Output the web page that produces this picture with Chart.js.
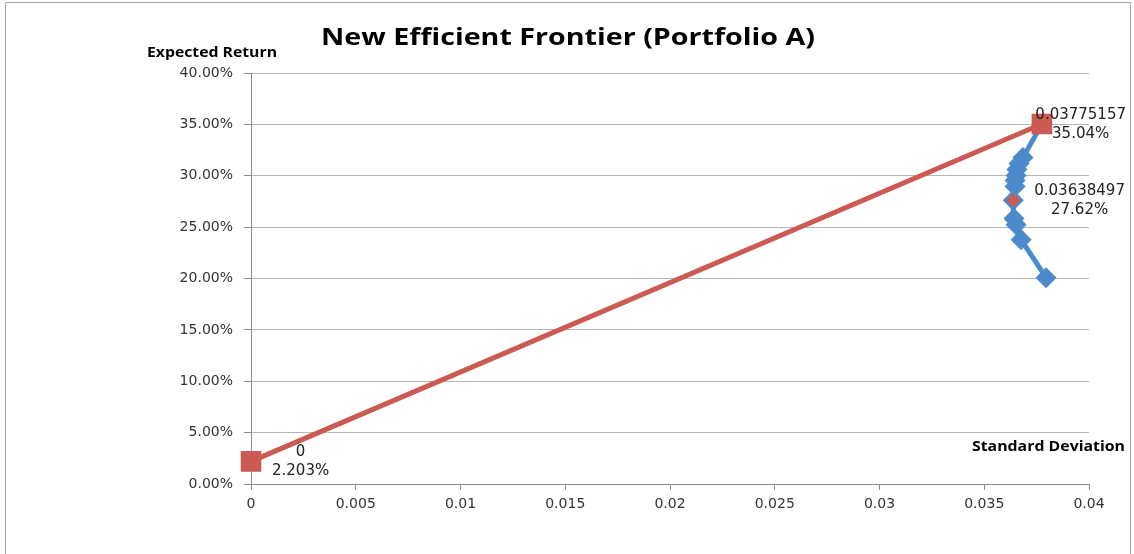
<!DOCTYPE html>
<html>
<head>
<meta charset="utf-8">
<script src="https://cdn.jsdelivr.net/npm/chart.js@4.4.1/dist/chart.umd.min.js"></script>
<style>
  html, body { margin: 0; padding: 0; background: #fff; }
  #wrap { width: 1134px; height: 554px; }
</style>
</head>
<body>
<div id="wrap"><canvas id="chartFrontier" width="1134" height="554"></canvas></div>
<script>
// efficient frontier (std dev, expected return %)
const frontierRisk = [0.03795, 0.03676, 0.03652, 0.03642, 0.03638497, 0.03647, 0.03647, 0.03652, 0.03656, 0.03666, 0.03685, 0.03775157];
const frontierReturn = [20.08, 23.78, 25.24, 25.83, 27.62, 28.95, 29.53, 30.02, 30.60, 31.19, 31.77, 35.04];

// capital market line: risk free -> tangency portfolio
const cmlRisk = [0, 0.03775157];
const cmlReturn = [2.203, 35.04];

// minimum variance portfolio
const minVarRisk = [0.03638497];
const minVarReturn = [27.62];

const xTickLabels = ['0', '0.005', '0.01', '0.015', '0.02', '0.025', '0.03', '0.035', '0.04'];
const yTickLabels = ['0.00%', '5.00%', '10.00%', '15.00%', '20.00%', '25.00%', '30.00%', '35.00%', '40.00%'];

const toPoints = (xs, ys) => xs.map((x, i) => ({ x: x, y: ys[i] }));

const BLUE = '#4b8acb';
const RED = '#cb5a52';
const tickFont = { family: 'DejaVu Sans', size: 14 };

// the original picture is a bit wider than tall, so stretch the titles sideways
function stretchedText(ctx, text, left, y, width) {
    const w = ctx.measureText(text).width;
    ctx.save();
    ctx.translate(left, y);
    ctx.scale(width / w, 1);
    ctx.textAlign = 'left';
    ctx.fillText(text, 0, 0);
    ctx.restore();
}

const decorPlugin = {
    id: 'decor',
    afterDraw: function(chart) {
        const ctx = chart.ctx;
        ctx.save();

        // chart frame
        ctx.strokeStyle = '#a6a6a6';
        ctx.lineWidth = 1;
        ctx.beginPath();
        ctx.moveTo(5.5, 560);
        ctx.lineTo(5.5, 2.5);
        ctx.lineTo(1130.5, 2.5);
        ctx.lineTo(1130.5, 560);
        ctx.stroke();

        // title + axis titles
        ctx.fillStyle = '#000';
        ctx.textBaseline = 'middle';
        ctx.font = 'bold 23px "Open Sans"';
        stretchedText(ctx, 'New Efficient Frontier (Portfolio A)', 321, 38, 494);

        ctx.font = 'bold 14px "Open Sans"';
        stretchedText(ctx, 'Expected Return', 147, 53, 130);
        stretchedText(ctx, 'Standard Deviation', 972, 447, 153);

        // data labels, Excel style: to the right of the point, kept inside the frame
        ctx.font = '15px "DejaVu Sans"';
        ctx.fillStyle = '#222';
        ctx.textAlign = 'center';
        const labelled = [
            [cmlRisk[0], cmlReturn[0]],
            [cmlRisk[1], cmlReturn[1]],
            [minVarRisk[0], minVarReturn[0]]
        ];
        const xs = chart.scales.x, ys = chart.scales.y;
        labelled.forEach(([rx, ry]) => {
            const line1 = String(rx);
            const line2 = ry.toPrecision(4) + '%';
            const px = xs.getPixelForValue(rx);
            const py = ys.getPixelForValue(ry);
            const w = Math.max(ctx.measureText(line1).width, ctx.measureText(line2).width);
            let left = px + 21;
            if (left + w > 1126) left = 1126 - w;
            const cx = left + w / 2;
            ctx.fillText(line1, cx, py - 9);
            ctx.fillText(line2, cx, py + 10);
        });

        ctx.restore();
    }
};

const ctx = document.getElementById('chartFrontier').getContext('2d');

new Chart(ctx, {
    type: 'scatter',
    data: {
        datasets: [
            {
                label: 'Min variance',
                data: toPoints(minVarRisk, minVarReturn),
                pointStyle: 'rectRot',
                pointRadius: 7,
                backgroundColor: RED,
                borderColor: RED,
                showLine: false,
                clip: false,
                order: 0
            },
            {
                label: 'CML',
                data: toPoints(cmlRisk, cmlReturn),
                pointStyle: 'rect',
                pointRadius: 11,
                backgroundColor: RED,
                borderColor: RED,
                borderWidth: 5,
                showLine: true,
                tension: 0,
                clip: false,
                order: 1
            },
            {
                label: 'Frontier',
                data: toPoints(frontierRisk, frontierReturn),
                pointStyle: 'rectRot',
                pointRadius: 7,
                backgroundColor: BLUE,
                borderColor: BLUE,
                borderWidth: 5,
                showLine: true,
                tension: 0,
                clip: false,
                order: 2
            }
        ]
    },
    options: {
        responsive: false,
        animation: false,
        devicePixelRatio: 1,
        layout: { padding: { top: 73, left: 0, right: 45, bottom: 30 } },
        plugins: {
            legend: { display: false },
            tooltip: { enabled: false }
        },
        elements: {
            point: { borderWidth: 0 }
        },
        scales: {
            x: {
                type: 'linear',
                min: 0,
                max: 0.04,
                ticks: {
                    stepSize: 0.005,
                    font: tickFont,
                    color: '#333',
                    padding: 6,
                    maxRotation: 0,
                    callback: (v, i) => xTickLabels[i]
                },
                grid: {
                    drawOnChartArea: false,
                    tickLength: 6,
                    tickColor: '#8c8c8c'
                },
                border: { color: '#8c8c8c' },
                afterFit: s => { s.height = 40; }
            },
            y: {
                min: 0,
                max: 40,
                ticks: {
                    stepSize: 5,
                    font: tickFont,
                    color: '#333',
                    padding: 11,
                    callback: (v, i) => yTickLabels[i]
                },
                grid: {
                    color: '#b5b5b5',
                    tickLength: 7,
                    tickColor: '#8c8c8c'
                },
                border: { color: '#8c8c8c' },
                afterFit: s => { s.width = 251; }
            }
        }
    },
    plugins: [decorPlugin]
});
</script>
</body>
</html>
